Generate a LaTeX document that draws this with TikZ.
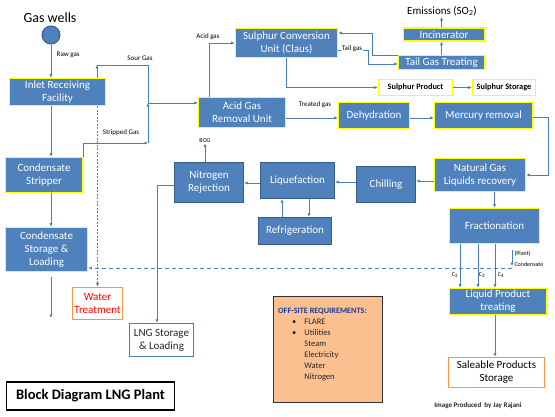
\documentclass[tikz,border=0pt]{standalone}
\usepackage{fontspec}
\setmainfont{Carlito}
\usetikzlibrary{arrows.meta,calc}
\definecolor{boxblue}{HTML}{4F81BD}
\definecolor{darkedge}{HTML}{385D8A}
\definecolor{linec}{HTML}{4A7EBB}
\definecolor{ybord}{HTML}{FFFF00}
\definecolor{orng}{HTML}{F79646}
\definecolor{peach}{HTML}{FAC090}
\definecolor{navy}{HTML}{1F3A93}
\tikzset{
 blk/.style={fill=boxblue, text=white, align=center, inner sep=0pt, font=\fontsize{11}{13}\selectfont},
 yb/.style={blk, draw=ybord, line width=1.6pt},
 db/.style={blk, draw=darkedge, line width=1.2pt},
 wb/.style={fill=white, draw=ybord, line width=1.6pt, text=black, inner sep=0pt, font=\fontsize{8.3}{10}\selectfont\bfseries},
 ob/.style={fill=white, draw=orng, line width=1.6pt, align=center, inner sep=0pt, font=\fontsize{11}{13}\selectfont},
 conn/.style={draw=linec, line width=0.8pt, -{Latex[length=3.5pt,width=3.2pt]}},
 plain/.style={draw=linec, line width=0.8pt},
 lbl/.style={font=\fontsize{7}{8}\selectfont, inner sep=0.5pt},
 tiny/.style={font=\fontsize{6}{7}\selectfont, inner sep=0.3pt},
}
\begin{document}
\begin{tikzpicture}[x=1pt,y=-1pt]
\useasboundingbox (0,0) rectangle (555,416);
% nodes
\node[font=\fontsize{14}{16}\selectfont] (gw) at (50,18) {Gas wells};
\node[circle, fill=boxblue, draw=darkedge, line width=1pt, minimum size=18pt, inner sep=0pt] (well) at (51,35) {};
\node[yb, minimum width=96pt, minimum height=27pt] (inlet) at (57.5,92) {Inlet Receiving\\Facility};
\node[yb, minimum width=77pt, minimum height=35pt] (stripper) at (44,175) {Condensate\\Stripper};
\node[yb, minimum width=82pt, minimum height=44pt] (storage) at (46.5,249.5) {Condensate\\Storage \&\\Loading};
\node[yb, minimum width=87pt, minimum height=30pt] (acid) at (242,112.5) {Acid Gas\\Removal Unit};
\node[yb, minimum width=102pt, minimum height=29pt] (claus) at (286.5,43) {Sulphur Conversion\\Unit (Claus)};
\node[yb, minimum width=86pt, minimum height=14pt] (tgt) at (441.5,62.5) {Tail Gas Treating};
\node[yb, minimum width=81pt, minimum height=12.5pt] (incin) at (444,34.5) {Incinerator};
\node[font=\fontsize{11}{13}\selectfont, inner sep=1pt] (emis) at (442,11) {Emissions (SO\textsubscript{2})};
\node[wb, minimum width=74pt, minimum height=16pt] (sprod) at (415.5,87.5) {Sulphur Product};
\node[wb, minimum width=63pt, minimum height=16pt] (sstore) at (504,87.5) {Sulphur Storage};
\node[yb, minimum width=71pt, minimum height=26pt] (dehyd) at (374,115.5) {Dehydration};
\node[yb, minimum width=98pt, minimum height=26pt] (merc) at (483.5,115.5) {Mercury removal};
\node[yb, minimum width=91pt, minimum height=33pt] (ngl) at (480,175) {Natural Gas\\Liquids recovery};
\node[db, minimum width=59pt, minimum height=36pt] (chill) at (386,184.5) {Chilling};
\node[db, minimum width=74pt, minimum height=36pt] (liq) at (297.5,180.5) {Liquefaction};
\node[db, minimum width=69pt, minimum height=40pt] (nrej) at (209,182.5) {Nitrogen\\Rejection};
\node[db, minimum width=73pt, minimum height=27pt] (refr) at (295,231) {Refrigeration};
\node[fill=white, draw=linec, line width=1.2pt, align=center, inner sep=0pt, font=\fontsize{11}{13}\selectfont, text=black!85, minimum width=64pt, minimum height=33pt] (lng) at (161.5,340) {LNG Storage\\\& Loading};
\node[ob, text=red, minimum width=50pt, minimum height=32pt] (water) at (97.5,303.5) {Water\\Treatment};
\node[yb, minimum width=90pt, minimum height=35pt] (frac) at (494.5,226) {Fractionation};
\node[yb, minimum width=97pt, minimum height=26pt] (lpt) at (498,301.5) {Liquid Product\\treating};
\node[ob, text=black, minimum width=96pt, minimum height=30pt] (sale) at (496.5,372.5) {Saleable Products\\Storage};
\node[draw=black!80, fill=peach, line width=1pt, minimum width=109pt, minimum height=106pt] (offsite) at (328,349.5) {};
\node[anchor=west, font=\fontsize{8.2}{9}\selectfont\bfseries, text=navy, inner sep=0pt] (ofh) at (278,311) {OFF-SITE REQUIREMENTS:};
\node[anchor=north west, inner sep=0pt, font=\fontsize{8.5}{11}\selectfont, text=black!85] (oflist) at (292,316.5) {\begin{tabular}{@{}l@{\hspace{8pt}}l@{}}\textbullet & FLARE\\ \textbullet & Utilities\\ & Steam\\ & Electricity\\ & Water\\ & Nitrogen\end{tabular}};
\node[draw=black, line width=1.2pt, minimum width=168pt, minimum height=28pt, inner sep=0pt, font=\fontsize{14.5}{16}\selectfont\bfseries] (title) at (90.5,396) {Block Diagram LNG Plant};
\node[font=\fontsize{7}{8}\selectfont\bfseries, inner sep=0pt, text=black!85] (credit) at (478,406) {Image Produced\ \ by Jay Rajani};
% coordinates
\coordinate (sg) at (97,65);
\coordinate (j1) at (148,103);
\coordinate (j2) at (148,143);
\coordinate (ag) at (209,43);
\coordinate (t1) at (368,50);
\coordinate (t2) at (372,33);
\coordinate (t3) at (372,55.5);
\coordinate (t4) at (398,64);
\coordinate (tr) at (300,118);
\coordinate (m1) at (548,117);
\coordinate (y1) at (0,181);
\coordinate (y2) at (0,182);
\coordinate (y3) at (0,183);
\coordinate (r1) at (282,0);
\coordinate (r2) at (309,0);
\coordinate (n1) at (157,185);
\coordinate (c2) at (460,0);
\coordinate (c3) at (478,0);
\coordinate (c4) at (495,0);
\coordinate (pc1) at (512,250);
\coordinate (pc2) at (512,266);
\coordinate (pc3) at (512,268);
\coordinate (cdA) at (51,277);
\coordinate (cdB) at (51,318);
% connectors
\draw[conn] (well.south) -- (well.south |- inlet.north);
\node[lbl, anchor=west] (rawlbl) at (56,55) {Raw gas};
\draw[conn] (inlet.south -| well) -- (stripper.north -| well);
\draw[conn] (stripper.south -| well) -- (storage.north -| well);
\draw[conn] (cdA) -- (cdB);
\draw[conn] (inlet.north -| sg) -- (sg);
\draw[plain] (sg) -| (j1);
\node[lbl] (sourlbl) at (140,58) {Sour Gas};
\draw[conn] (stripper.north east) |- (j2);
\draw[conn] (j2) -- (j1);
\draw[conn] (j1) -- (acid.west |- j1);
\node[lbl] (striplbl) at (121,133) {Stripped Gas};
\draw[conn, dash pattern=on 2pt off 1.5pt] (inlet.south -| water) -- (water.north);
\draw[conn] (acid.north -| ag) |- (claus.west);
\node[lbl] (aglbl) at (208,37) {Acid gas};
\draw[conn] (claus.south) |- (sprod.west);
\draw[conn] (sprod) -- (sstore);
\draw[conn] (claus.east |- t1) -- (t1) |- (tgt.west |- t4);
\draw[conn] (tgt.west |- t3) -- (t3) |- (claus.east |- t2);
\node[lbl, fill=white, inner sep=1pt] (tglbl) at (352,48.5) {Tail gas};
\draw[conn] (tgt.north) -- (tgt.north |- incin.south);
\draw[conn] (tgt.north |- incin.north) -- (tgt.north |- emis.south);
\draw[conn] (acid.east |- tr) -- (dehyd.west |- tr);
\node[lbl] (trlbl) at (315,105) {Treated gas};
\draw[conn] (dehyd.east |- tr) -- (merc.west |- tr);
\draw[conn] (merc.east |- m1) -- (m1) |- (ngl.east);
\draw[conn] (ngl.west |- y1) -- (chill.east |- y1);
\draw[conn] (chill.west |- y2) -- (liq.east |- y2);
\draw[conn] (liq.west |- y3) -- (nrej.east |- y3);
\node[tiny] (bog) at (205,141) {BOG};
\draw[conn] (nrej.north -| bog) -- (bog.south);
\draw[conn] (refr.north -| r1) -- (liq.south -| r1);
\draw[conn] (liq.south -| r2) -- (refr.north -| r2);
\draw[conn] (nrej.west |- n1) -- (n1) -- (n1 |- lng.north);
\draw[conn] (ngl.south -| frac.north) -- (frac.north);
\draw[conn] (frac.south -| c2) -- (lpt.north -| c2);
\draw[conn] (frac.south -| c3) -- (lpt.north -| c3);
\draw[conn] (frac.south -| c4) -- (lpt.north -| c4);
\node[tiny] (c2l) at (455,275) {C\textsubscript{2}};
\node[tiny] (c3l) at (482,275) {C\textsubscript{3}};
\node[tiny] (c4l) at (501,275) {C\textsubscript{4}};
\draw[conn] (pc1) -- (pc2);
\node[tiny, anchor=west] (plantl) at (514,254) {(Plant)};
\node[tiny, anchor=west] (condl) at (514,264) {Condensate};
\draw[conn, dash pattern=on 4pt off 3pt] (pc3) -- (storage.east |- pc3);
\draw[conn] (lpt.south -| c4) -- (sale.north -| c4);
\end{tikzpicture}
\end{document}
